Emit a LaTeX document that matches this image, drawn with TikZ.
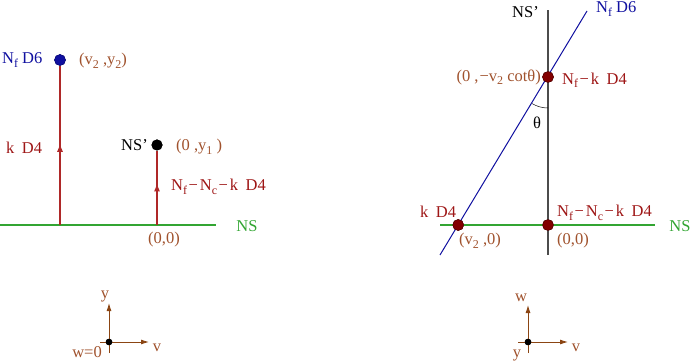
\documentclass[tikz,border=0pt]{standalone}
\usepackage{fontspec}
\setmainfont{Liberation Serif}
\usetikzlibrary{arrows.meta,decorations.markings}
\definecolor{labbrown}{RGB}{160,82,45}
\definecolor{labred}{RGB}{158,22,22}
\definecolor{labblue}{RGB}{16,16,160}
\definecolor{linered}{RGB}{175,40,40}
\definecolor{nsgreen}{RGB}{50,165,50}
\definecolor{axbrown}{RGB}{139,69,19}
\definecolor{dotred}{RGB}{130,0,0}
\newcommand\sbs[1]{\raisebox{-0.45ex}{\fontsize{12}{12}\selectfont #1}}
\newcommand\mns{\kern1.5pt−\kern2pt}
\begin{document}
\begin{tikzpicture}[x=1pt,y=1pt,
  lbl/.style={font=\fontsize{16.5}{18}\selectfont, inner sep=0pt},
  brownlbl/.style={lbl,text=labbrown},
  redlbl/.style={lbl,text=labred},
  bluelbl/.style={lbl,text=labblue},
  greenlbl/.style={lbl,text=nsgreen},
  blacklbl/.style={lbl,text=black},
  nsline/.style={draw=nsgreen,line width=1.1pt},
  d4line/.style={draw=linered,line width=1.1pt,
    postaction={decorate},
    decoration={markings,mark=at position #1 with {\arrow{Latex[length=8pt,width=6pt]}}}},
  bluedot/.style={circle,fill=labblue,draw=labblue!70!black,inner sep=0pt,minimum size=11pt},
  blackdot/.style={circle,fill=black,inner sep=0pt,minimum size=11pt},
  reddot/.style={circle,fill=dotred,draw=dotred!60!black,inner sep=0pt,minimum size=11pt},
  axdot/.style={circle,fill=black,inner sep=0pt,minimum size=6.5pt},
  axis/.style={draw=axbrown,line width=0.9pt,-{Latex[length=8pt,width=5pt]}},
  axstub/.style={draw=axbrown,line width=0.9pt},
]
\useasboundingbox (0,0) rectangle (692,361);

% ---------- left panel ----------
\coordinate (LG1) at (0,136);
\coordinate (LG2) at (216,136);
\coordinate (LA) at (60,136);
\coordinate (LO) at (157,136);
\node[bluedot] (LD6) at (60,301) {};
\node[blackdot] (LNS) at (157,216) {};
\draw[nsline] (LG1) -- (LG2);
\draw[d4line=0.51] (LA) -- (LD6);
\draw[d4line=0.56] (LO) -- (LNS);
\node[bluedot] at (LD6) {};
\node[blackdot] at (LNS) {};

\node[greenlbl] (lNS) at (247,135) {NS};
\node[bluelbl,anchor=west] (lD6) at (2,301) {N\sbs{f} D6};
\node[brownlbl,anchor=west] (lv2y2) at (79,300) {(v\sbs{2} ,y\sbs{2})};
\node[redlbl,anchor=west] (lkD4) at (6,213) {k\hspace{0.45em}D4};
\node[blacklbl,anchor=east] (lNSp) at (148,216) {NS’};
\node[brownlbl,anchor=west] (l0y1) at (176,214) {(0 ,y\sbs{1} )};
\node[redlbl,anchor=west] (lNfNc) at (171,174) {N\sbs{f}\mns N\sbs{c}\mns k\hspace{0.45em}D4};
\node[brownlbl] (l00) at (164,121) {(0,0)};

% left axes
\node[axdot] (LAO) at (109,19) {};
\coordinate (LAy) at (109,58);
\coordinate (LAv) at (149,19);
\coordinate (LAyb) at (109,8);
\coordinate (LAvb) at (100,19);
\draw[axstub] (LAyb) -- (LAO.center);
\draw[axstub] (LAvb) -- (LAO.center);
\draw[axis] (LAO.center) -- (LAy);
\draw[axis] (LAO.center) -- (LAv);
\node[axdot] at (LAO) {};
\node[brownlbl] (lay) at (105,65) {y};
\node[brownlbl] (lav) at (157,13) {v};
\node[brownlbl,anchor=east] (law) at (102,9) {w=0};

% ---------- right panel ----------
\coordinate (RV1) at (548,106);
\coordinate (RV2) at (548,351);
\coordinate (RG1) at (440,136);
\coordinate (RG2) at (655,136);
\coordinate (RB1) at (440,106);
\coordinate (RB2) at (587,350);
\node[reddot] (RP1) at (548,284) {};
\node[reddot] (RP0) at (548,136) {};
\node[reddot] (RP2) at (458.2,136) {};
\draw[nsline] (RG1) -- (RG2);
\draw[draw=black!70,line width=1.4pt] (RV1) -- (RV2);
\draw[draw=labblue,line width=1pt] (RB1) -- (RB2);
\draw[black,line width=0.5pt] ([shift={(-90:31)}]RP1.center) arc[start angle=-90,end angle=-121,radius=31pt];
\node[reddot] at (RP1) {};
\node[reddot] at (RP0) {};
\node[reddot] at (RP2) {};

\node[blacklbl,anchor=east] (rNSp) at (539,349) {NS’};
\node[bluelbl,anchor=west] (rD6) at (596,352) {N\sbs{f} D6};
\node[brownlbl,anchor=east] (rcot) at (541,284) {(0 ,\kern1pt−v\sbs{2} cotθ)};
\node[redlbl,anchor=west] (rNfk) at (562,281) {N\sbs{f}\mns k\hspace{0.45em}D4};
\node[blacklbl] (rth) at (537,238) {θ};
\node[redlbl,anchor=west] (rkD4) at (420,149) {k\hspace{0.45em}D4};
\node[redlbl,anchor=west] (rNfNc) at (557,148) {N\sbs{f}\mns N\sbs{c}\mns k\hspace{0.45em}D4};
\node[greenlbl] (rNS) at (680,135) {NS};
\node[brownlbl,anchor=west] (rv20) at (459,120) {(v\sbs{2} ,0)};
\node[brownlbl,anchor=west] (r00) at (557,120) {(0,0)};

% right axes
\node[axdot] (RAO) at (528,19) {};
\coordinate (RAw) at (528,56);
\coordinate (RAv) at (568,19);
\coordinate (RAwb) at (528,8);
\coordinate (RAvb) at (518,19);
\draw[axstub] (RAwb) -- (RAO.center);
\draw[axstub] (RAvb) -- (RAO.center);
\draw[axis] (RAO.center) -- (RAw);
\draw[axis] (RAO.center) -- (RAv);
\node[axdot] at (RAO) {};
\node[brownlbl] (raw) at (521,63) {w};
\node[brownlbl] (rav) at (576,13) {v};
\node[brownlbl] (ray) at (517,6) {y};
\end{tikzpicture}
\end{document}
